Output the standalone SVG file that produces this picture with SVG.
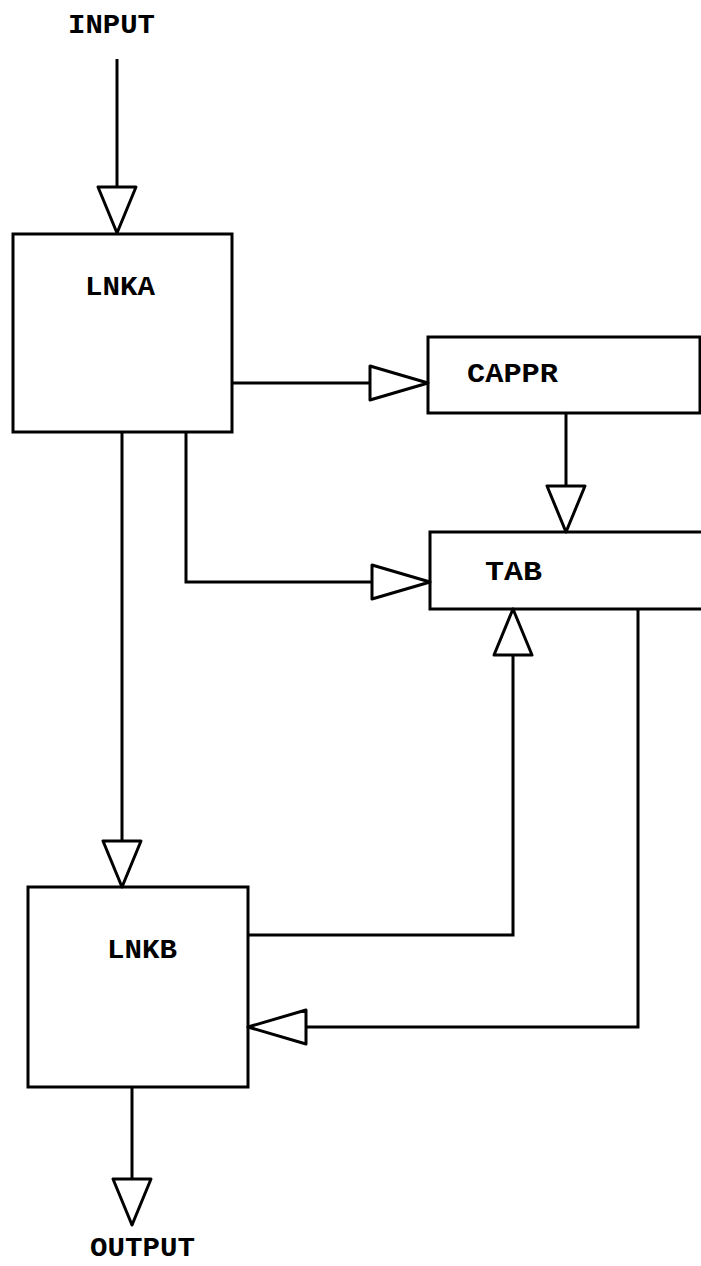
<svg xmlns="http://www.w3.org/2000/svg" width="701" height="1266" viewBox="0 0 701 1266">
  <style>
    .box { fill: #ffffff; stroke: #000000; stroke-width: 3; }
    .wire { fill: none; stroke: #000000; stroke-width: 3; stroke-linejoin: miter; }
    .lbl { font-family: "Liberation Mono", "DejaVu Sans Mono", monospace; font-weight: bold; font-size: 28px; fill: #000000; }
  </style>
  <defs>
    <marker id="av" markerUnits="userSpaceOnUse" markerWidth="80" markerHeight="80" refX="0" refY="0" orient="auto" overflow="visible">
      <path d="M-46,-19 L0,0 L-46,19 Z" fill="#ffffff" stroke="#000000" stroke-width="3" stroke-linejoin="round"/>
    </marker>
    <marker id="ah" markerUnits="userSpaceOnUse" markerWidth="80" markerHeight="80" refX="0" refY="0" orient="auto" overflow="visible">
      <path d="M-58,-17 L0,0 L-58,17 Z" fill="#ffffff" stroke="#000000" stroke-width="3" stroke-linejoin="round"/>
    </marker>
  </defs>
  <rect width="701" height="1266" fill="#ffffff"/>

  <g id="input">
    <text class="lbl" x="68" y="33" textLength="87" lengthAdjust="spacingAndGlyphs">INPUT</text>
  </g>

  <g id="lnka">
    <rect class="box" x="13" y="234" width="219" height="198"/>
    <text class="lbl" x="85" y="295" textLength="70" lengthAdjust="spacingAndGlyphs">LNKA</text>
  </g>

  <g id="cappr">
    <rect class="box" x="428" y="337" width="272" height="76"/>
    <text class="lbl" x="467" y="382" textLength="91" lengthAdjust="spacingAndGlyphs">CAPPR</text>
  </g>

  <g id="tab">
    <path class="box" d="M703,532 H430 V609 H703"/>
    <text class="lbl" x="485" y="580" textLength="57" lengthAdjust="spacingAndGlyphs">TAB</text>
  </g>

  <g id="lnkb">
    <rect class="box" x="28" y="887" width="220" height="200"/>
    <text class="lbl" x="107" y="958" textLength="70" lengthAdjust="spacingAndGlyphs">LNKB</text>
  </g>

  <g id="output">
    <text class="lbl" x="90" y="1256" textLength="105" lengthAdjust="spacingAndGlyphs">OUTPUT</text>
  </g>

  <g id="connectors">
    <path class="wire" d="M117,59 V233" marker-end="url(#av)"/>
    <path class="wire" d="M232,383 H428" marker-end="url(#ah)"/>
    <path class="wire" d="M566,413 V532" marker-end="url(#av)"/>
    <path class="wire" d="M186,432 V582 H430" marker-end="url(#ah)"/>
    <path class="wire" d="M122,432 V887" marker-end="url(#av)"/>
    <path class="wire" d="M248,935 H513 V609" marker-end="url(#av)"/>
    <path class="wire" d="M638,609 V1027 H248" marker-end="url(#ah)"/>
    <path class="wire" d="M132,1087 V1225" marker-end="url(#av)"/>
  </g>
</svg>
